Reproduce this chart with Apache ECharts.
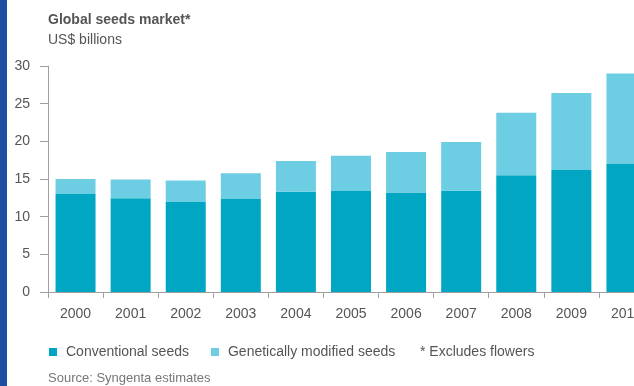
<!DOCTYPE html>
<html>
<head>
<meta charset="utf-8">
<script src="https://cdn.jsdelivr.net/npm/echarts@6/dist/echarts.min.js"></script>
<style>
html,body{margin:0;padding:0;background:#fff;overflow:hidden;width:634px;height:386px;}
#chart{width:660px;height:386px;}
</style>
</head>
<body>
<div id="chart"></div>
<script>
const years = ['2000','2001','2002','2003','2004','2005','2006','2007','2008','2009','2010'];
const conventional = [13.0, 12.45, 11.95, 12.35, 13.3, 13.4, 13.2, 13.45, 15.5, 16.2, 17.0];
const gm = [2.0, 2.5, 2.85, 3.4, 4.1, 4.7, 5.4, 6.45, 8.3, 10.2, 12.0];
const seriesNames = ['Conventional seeds', 'Genetically modified seeds'];
const titleText = 'Global seeds market*';
const subtitleText = 'US$ billions';
const footnoteText = '* Excludes flowers';
const sourceText = 'Source: Syngenta estimates';

const FONT = '"Liberation Sans", Arial, sans-serif';
const TXT = '#555';
const AX = '#a0a0a0';

const chart = echarts.init(document.getElementById('chart'), null, {renderer: 'canvas'});
chart.setOption({
  animation: false,
  textStyle: {fontFamily: FONT},
  color: ['#00a6c2', '#6dcde3'],
  grid: {left: 48, top: 66, width: 606, height: 226, containLabel: false},
  legend: {
    data: seriesNames,
    left: 44, top: 340,
    icon: 'rect', itemWidth: 8, itemHeight: 8, itemGap: 22,
    textStyle: {fontFamily: FONT, fontSize: 14, color: TXT, padding: [0,0,0,4]}
  },
  xAxis: {
    type: 'category', data: years,
    axisLine: {show: true, lineStyle: {color: AX, width: 1}},
    axisTick: {show: true, length: 6, alignWithLabel: false, lineStyle: {color: AX}},
    axisLabel: {color: TXT, fontSize: 14, fontFamily: FONT, margin: 15}
  },
  yAxis: {
    type: 'value', min: 0, max: 30, interval: 5,
    axisLine: {show: true, lineStyle: {color: AX, width: 1}},
    axisTick: {show: true, length: 8, lineStyle: {color: AX}},
    splitLine: {show: false},
    axisLabel: {color: TXT, fontSize: 14, fontFamily: FONT, margin: 18}
  },
  series: [
    {name: seriesNames[0], type: 'bar', stack: 'total', barWidth: 40, data: conventional},
    {name: seriesNames[1], type: 'bar', stack: 'total', barWidth: 40, data: gm}
  ],
  graphic: [
    {type: 'rect', left: 0, top: 0, shape: {width: 7, height: 386}, style: {fill: '#1b4fa3'}},
    {type: 'text', left: 48, top: 13, style: {text: titleText, font: 'bold 14px ' + FONT, fill: TXT}},
    {type: 'text', left: 48, top: 33, style: {text: subtitleText, font: '14px ' + FONT, fill: TXT}},
    {type: 'text', left: 420, top: 345, style: {text: footnoteText, font: '14px ' + FONT, fill: TXT}},
    {type: 'text', left: 48, top: 372, style: {text: sourceText, font: '13px ' + FONT, fill: '#777'}}
  ]
});
</script>
</body>
</html>
